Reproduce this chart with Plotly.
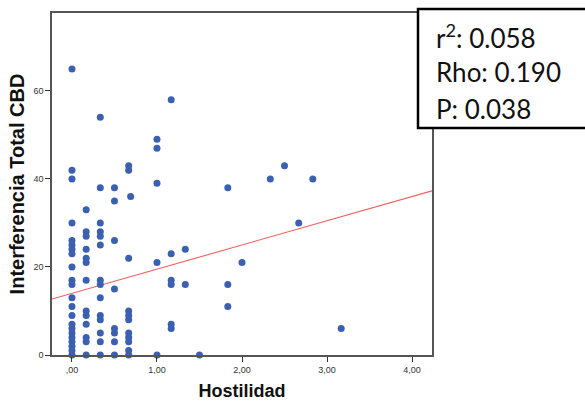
import plotly.graph_objects as go

# ---- data ----
hostilidad = (
    [0.0] * 22
    + [0.167] * 13
    + [0.333] * 14
    + [0.5] * 8
    + [0.667] * 11
    + [0.69]
    + [1.0] * 5
    + [1.167] * 6
    + [1.333] * 2
    + [1.5]
    + [1.833] * 3
    + [2.0, 2.333, 2.5, 2.667, 2.833, 3.167]
)
interferencia = (
    [65, 42, 40, 30, 26, 25, 24, 23, 20, 17, 16, 13, 11, 9, 7, 6, 5, 4, 3, 2, 1, 0]
    + [33, 28, 27, 24, 22, 21, 17, 10, 9, 7, 4, 3, 0]
    + [54, 38, 30, 28, 27, 25, 17, 16, 13, 9, 8, 5, 3, 0]
    + [38, 35, 26, 15, 6, 5, 3, 0]
    + [43, 42, 22, 10, 9, 8, 5, 4, 3, 1, 0]
    + [36]
    + [49, 47, 39, 21, 0]
    + [58, 23, 17, 16, 7, 6]
    + [24, 16]
    + [0]
    + [38, 16, 11]
    + [21, 40, 43, 30, 40, 6]
)
fit_intercept = 14.0
fit_slope = 5.5

x_tickvals = [0, 1, 2, 3, 4]
x_ticktext = [",00", "1,00", "2,00", "3,00", "4,00"]
y_tickvals = [0, 20, 40, 60]
y_ticktext = ["0", "20", "40", "60"]

stats_lines = ["r<sup>2</sup>: 0.058", "Rho: 0.190", "P: 0.038"]

x_range = [-0.235, 4.235]
y_range = [0, 77.7]

fig = go.Figure()

fit_x = x_range
fit_y = [fit_intercept + fit_slope * v for v in fit_x]
fig.add_trace(go.Scatter(
    x=fit_x, y=fit_y, mode="lines",
    line=dict(color="#F06060", width=1.1),
    hoverinfo="skip", showlegend=False,
))

fig.add_trace(go.Scatter(
    x=hostilidad, y=interferencia, mode="markers",
    marker=dict(color="#3B60B2", size=7, line=dict(width=0)),
    cliponaxis=False, showlegend=False,
))

fig.update_xaxes(
    range=x_range, tickvals=x_tickvals, ticktext=x_ticktext,
    showgrid=False, zeroline=False,
    showline=True, linecolor="#555555", linewidth=1.5, mirror=True,
    ticks="outside", ticklen=5, tickcolor="#333333", tickwidth=1,
    tickfont=dict(family="Liberation Sans, Arial", size=9, color="#333333"),
    title=dict(text="<b>Hostilidad</b>", standoff=14,
               font=dict(family="Liberation Sans, Arial", size=18, color="#111111")),
)
fig.update_yaxes(
    range=y_range, tickvals=y_tickvals, ticktext=y_ticktext,
    showgrid=False, zeroline=False,
    showline=True, linecolor="#555555", linewidth=1.5, mirror=True,
    ticks="outside", ticklen=5, tickcolor="#333333", tickwidth=1,
    tickfont=dict(family="Liberation Sans, Arial", size=9, color="#333333"),
    title=dict(text="<b>Interferencia Total CBD</b>", standoff=3,
               font=dict(family="Liberation Sans, Arial", size=20, color="#111111")),
)

L, R, T, B = 52, 153, 13, 46
W, H = 585, 401
pw = W - L - R
ph = H - T - B


def px_to_paper_x(px):
    return (px - L) / pw


def py_to_paper_y(py):
    return (H - B - py) / ph


fig.add_shape(
    type="rect", xref="paper", yref="paper",
    x0=px_to_paper_x(418), x1=px_to_paper_x(592),
    y0=py_to_paper_y(128), y1=py_to_paper_y(9),
    line=dict(color="#000000", width=2.5), fillcolor="white", layer="above",
)

for i, txt in enumerate(stats_lines):
    fig.add_annotation(
        xref="paper", yref="paper",
        x=px_to_paper_x(434), y=py_to_paper_y(36 + 36.5 * i),
        xanchor="left", yanchor="middle", showarrow=False,
        text=txt,
        font=dict(family="Lato, Open Sans, sans-serif", size=26, color="#111111"),
    )

fig.update_layout(
    width=W, height=H,
    margin=dict(l=L, r=R, t=T, b=B, autoexpand=False),
    paper_bgcolor="white", plot_bgcolor="white",
    showlegend=False,
)

fig.write_html(
    "out.html",
    config={"displayModeBar": False},
    post_script="document.body.style.margin='0';document.body.style.overflow='hidden';",
)
